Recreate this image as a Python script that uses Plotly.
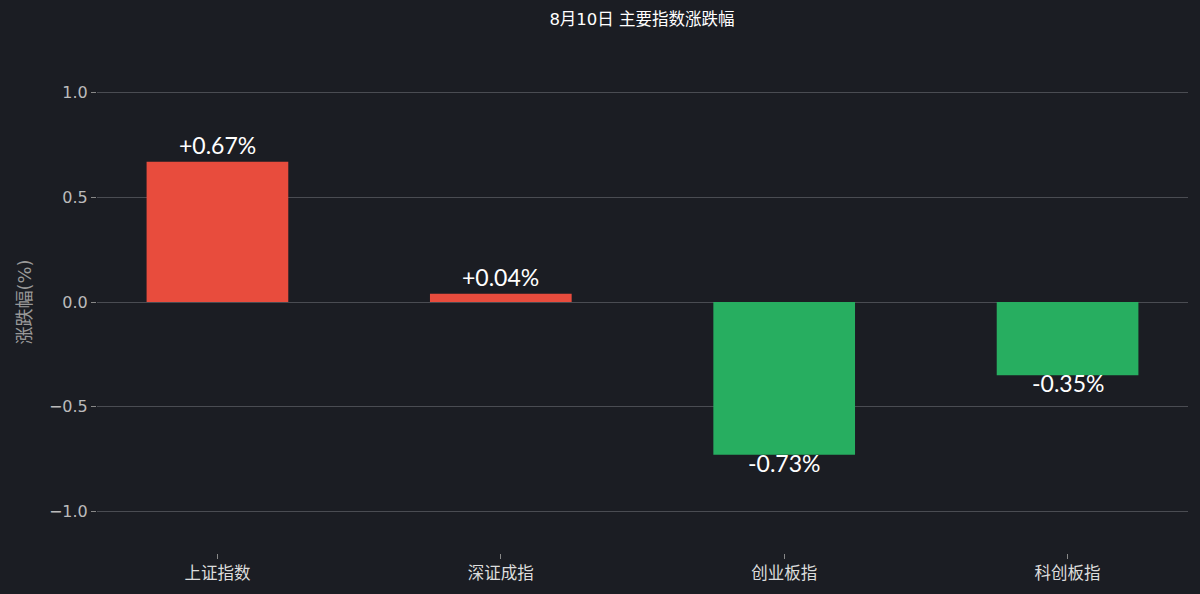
"""Bar chart of the main index moves on 8月10日."""

import plotly.graph_objs as go  # type: ignore

# data
categories = ["上证指数", "深证成指", "创业板指", "科创板指"]
changes = [0.67, 0.04, -0.73, -0.35]
labels = ["+0.67%", "+0.04%", "-0.73%", "-0.35%"]
y_ticks = [-1.0, -0.5, 0.0, 0.5, 1.0]
y_tick_text = ["\u22121.0", "\u22120.5", "0.0", "0.5", "1.0"]

bg = "#1b1d23"
up_color = "#e84c3d"
down_color = "#27ae60"
base_font = "'DejaVu Sans', 'Noto Sans CJK SC', sans-serif"

x_pos = list(range(len(categories)))
colors = [up_color if v >= 0 else down_color for v in changes]

fig = go.Figure()
fig.add_trace(go.Bar(
    x=x_pos,
    y=changes,
    width=0.5,
    marker=dict(color=colors, line=dict(width=0)),
    hoverinfo="skip",
))

# value labels above / below each bar
for x, v, t in zip(x_pos, changes, labels):
    fig.add_annotation(
        x=x, y=v, text=t, showarrow=False,
        yanchor="bottom" if v >= 0 else "top",
        yshift=1 if v >= 0 else 8,
        font=dict(family="Lato, 'Noto Sans CJK SC'", size=23, color="white"),
    )

fig.update_layout(
    title=dict(
        text="8月10日 主要指数涨跌幅",
        x=0.535, xanchor="center", y=0.968, yanchor="middle",
        font=dict(family=base_font, size=16.5, color="white"),
    ),
    width=1200,
    height=594,
    paper_bgcolor=bg,
    plot_bgcolor=bg,
    showlegend=False,
    margin=dict(l=97, r=12, t=51, b=41),
    font=dict(family=base_font, color="#bbbbbb"),
)

fig.update_xaxes(
    range=[-0.425, 3.425],
    tickvals=x_pos,
    ticktext=categories,
    ticks="outside",
    ticklen=5,
    tickcolor="#888888",
    tickfont=dict(size=16.5, color="#dddddd"),
    showgrid=False,
    zeroline=False,
    showline=False,
)

fig.update_yaxes(
    range=[-1.2, 1.2],
    tickvals=y_ticks,
    ticktext=y_tick_text,
    ticks="outside",
    ticklen=5,
    tickcolor="#888888",
    tickfont=dict(size=16, color="#bbbbbb"),
    showgrid=True,
    gridcolor="#4a4c52",
    gridwidth=1,
    zeroline=False,
    showline=False,
    title=dict(text="涨跌幅(%)", font=dict(size=18, color="#999999"), standoff=12),
)

# drop the page margin so the chart fills the window
fig.write_html(
    "out.html",
    config={"displayModeBar": False},
    post_script="document.body.style.margin='0';",
)
